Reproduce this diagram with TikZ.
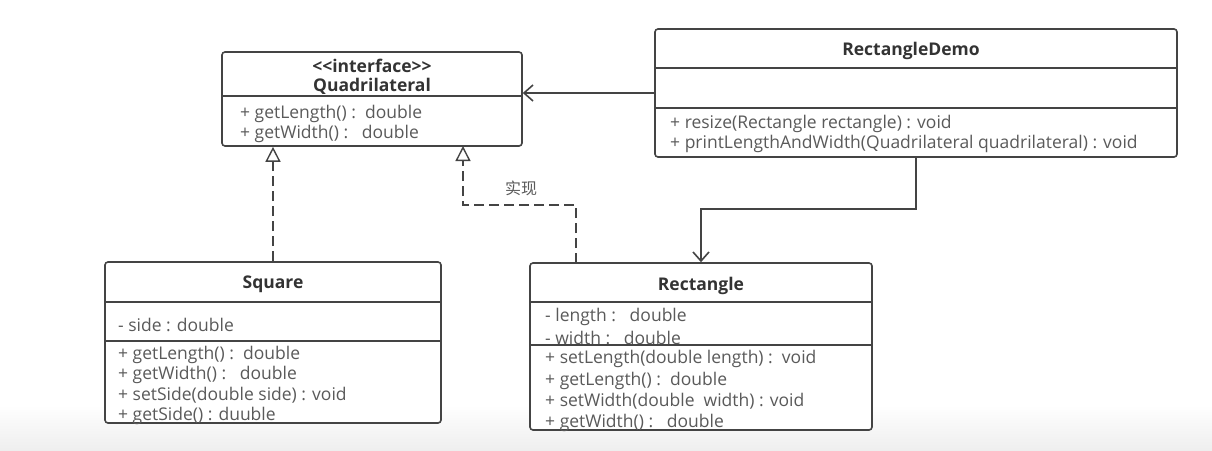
\documentclass[tikz,border=0pt]{standalone}
\usepackage{fontspec}
\setmainfont{Open Sans}
\newfontfamily\cjk{Noto Sans CJK SC}
\usetikzlibrary{arrows.meta,calc,shadings}
\definecolor{ln}{HTML}{444444}
\definecolor{tx}{HTML}{5A5A5A}
\definecolor{tt}{HTML}{333333}
\tikzset{
  cls/.style={draw=ln, line width=1.6pt, rounded corners=3pt, fill=white, inner sep=0pt},
  sep/.style={draw=ln, line width=1.4pt},
  mem/.style={anchor=west, inner sep=0pt, yshift=-1.5pt, text=tx, font=\fontsize{17.5}{19}\selectfont},
  ttl/.style={inner sep=0pt, yshift=-1pt, text=tt, font=\fontsize{17.5}{19}\selectfont\bfseries},
  real/.style={draw=ln, line width=1.6pt, dash pattern=on 10pt off 5pt, -{Triangle[open, length=15pt, width=15pt, line width=1.4pt]}},
  dep/.style={draw=ln, line width=1.6pt, -{Straight Barb[length=9pt, width=16pt, line width=1.6pt]}},
}
\begin{document}
\begin{tikzpicture}[x=1pt,y=-1pt]
\useasboundingbox (0,0) rectangle (1212,450);
\fill[white] (0,0) rectangle (1212,450);
\shade[top color=white, bottom color=gray!13] (0,405) rectangle (1212,450);

% Quadrilateral
\node[cls, minimum width=300pt, minimum height=94pt] (quad) at (372,99) {};
\draw[sep] (222,96) -- (522,96);
\node[ttl] (quadst) at (372,65) {<{}<interface>{}>};
\node[ttl] (quadn) at (372,85) {Quadrilateral};
\node[mem] (q1) at (240,112) {+ getLength() :\ \ double};
\node[mem] (q2) at (240,132) {+ getWidth() :\ \ \ double};

% RectangleDemo
\node[cls, minimum width=522pt, minimum height=128pt] (demo) at (916,93) {};
\draw[sep] (655,68) -- (1177,68);
\draw[sep] (655,108) -- (1177,108);
\node[ttl] (demon) at (911,50) {RectangleDemo};
\node[mem] (d1) at (670,122) {+ resize(Rectangle rectangle) : void};
\node[mem] (d2) at (670,142) {+ printLengthAndWidth(Quadrilateral quadrilateral) : void};

% Square
\node[cls, minimum width=336pt, minimum height=161pt] (sq) at (273,342.5) {};
\draw[sep] (105,302) -- (441,302);
\draw[sep] (105,341) -- (441,341);
\node[ttl] (sqn) at (273,283) {Square};
\node[mem] (s0) at (118,323) {- side : double};
\node[mem] (s1) at (118,353) {+ getLength() :\ \ double};
\node[mem] (s2) at (118,373) {+ getWidth() :\ \ \ double};
\node[mem] (s3) at (118,394) {+ setSide(double side) : void};
\node[mem] (s4) at (118,414) {+ getSide() : duuble};

% Rectangle
\node[cls, minimum width=342pt, minimum height=167pt] (rect) at (701,346.5) {};
\draw[sep] (530,302) -- (872,302);
\draw[sep] (530,345) -- (872,345);
\node[ttl] (rectn) at (701,285) {Rectangle};
\node[mem] (r0) at (545,315) {- length :\ \ \ double};
\node[mem] (r1) at (545,336) {- width :\ \ \ double};
\node[mem] (r2) at (545,357) {+ setLength(double length) :\ \ void};
\node[mem] (r3) at (545,379) {+ getLength() :\ \ double};
\node[mem] (r4) at (545,400) {+ setWidth(double\ \ width) : void};
\node[mem] (r5) at (545,421) {+ getWidth() :\ \ \ double};

% connectors
\draw[real] (sq.north) -- (sq.north |- quad.south);
\coordinate (rs) at (576,263);
\coordinate (qr) at (463,146);
\draw[real] (rs) -- (576,205) -- (463,205) -- (qr);
\node[inner sep=0pt, text=tx, font=\cjk\fontsize{16}{18}\selectfont] (lbl) at (521,188) {实现};
\draw[dep] (demo.west) -- (quad.east |- demo.west);
\draw[dep] (demo.south) -- (916,209) -- (701,209) -- (rect.north);
\end{tikzpicture}
\end{document}
